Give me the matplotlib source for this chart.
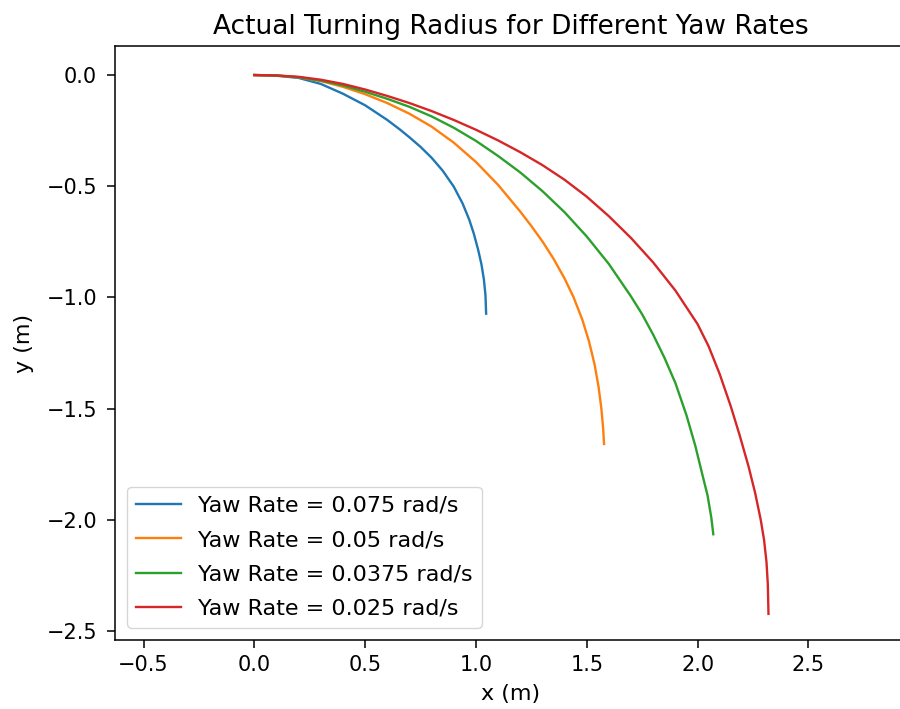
import matplotlib
matplotlib.use("Agg")
import matplotlib.pyplot as plt

# Yaw rates (rad/s)
yaw_rates = [0.075, 0.05, 0.0375, 0.025]

# Trajectory points (x, y in metres)
x_0075 = [0.000, 0.100, 0.200, 0.300, 0.400, 0.500, 0.600, 0.657, 0.700, 0.750, 0.800, 0.850,
          0.900, 0.940, 0.970, 0.990, 1.010, 1.025, 1.036, 1.043, 1.046]
y_0075 = [0.000, -0.003, -0.013, -0.040, -0.084, -0.136, -0.202, -0.245, -0.280, -0.323, -0.372, -0.430,
          -0.502, -0.578, -0.651, -0.712, -0.786, -0.852, -0.920, -0.990, -1.073]

x_005 = [0.000, 0.100, 0.200, 0.300, 0.400, 0.500, 0.600, 0.700, 0.800, 0.900, 1.000, 1.100, 1.200,
         1.250, 1.300, 1.350, 1.400, 1.440, 1.480, 1.510, 1.535, 1.553, 1.566, 1.574, 1.578]
y_005 = [0.000, -0.002, -0.010, -0.027, -0.053, -0.086, -0.126, -0.174, -0.232, -0.304, -0.391, -0.494, -0.614,
         -0.679, -0.748, -0.826, -0.915, -0.998, -1.100, -1.197, -1.300, -1.400, -1.500, -1.590, -1.659]

x_00375 = [0.000, 0.100, 0.200, 0.300, 0.400, 0.500, 0.600, 0.700, 0.800, 0.900, 1.000, 1.100, 1.200,
           1.300, 1.400, 1.500, 1.600, 1.700, 1.750, 1.800, 1.850, 1.900, 1.950, 1.990, 2.020, 2.045,
           2.062, 2.071]
y_00375 = [0.000, -0.002, -0.010, -0.025, -0.047, -0.075, -0.107, -0.143, -0.186, -0.237, -0.296, -0.364, -0.438,
           -0.522, -0.617, -0.726, -0.850, -0.996, -1.076, -1.168, -1.270, -1.385, -1.530, -1.668, -1.790, -1.890,
           -1.990, -2.065]

x_0025 = [0.000, 0.100, 0.200, 0.300, 0.400, 0.500, 0.600, 0.700, 0.800, 0.900, 1.000, 1.100, 1.200,
          1.300, 1.400, 1.500, 1.600, 1.700, 1.800, 1.900, 2.000, 2.050, 2.100, 2.150, 2.190, 2.230,
          2.260, 2.285, 2.300, 2.311, 2.317, 2.320]
y_0025 = [0.000, -0.002, -0.008, -0.021, -0.040, -0.065, -0.094, -0.126, -0.162, -0.202, -0.246, -0.294, -0.347,
          -0.405, -0.471, -0.547, -0.635, -0.733, -0.843, -0.969, -1.120, -1.220, -1.345, -1.490, -1.620, -1.760,
          -1.880, -2.000, -2.090, -2.190, -2.290, -2.423]

xs = [x_0075, x_005, x_00375, x_0025]
ys = [y_0075, y_005, y_00375, y_0025]
colors = ["#1f77b4", "#ff7f0e", "#2ca02c", "#d62728"]

plt.rcParams["font.family"] = ["DejaVu Sans"]
plt.rcParams["font.size"] = 16

fig = plt.figure(figsize=(9, 7.09), dpi=100)
ax = fig.add_axes([115 / 900, 69 / 709, 792 / 900, 594 / 709])

for x, y, w, c in zip(xs, ys, yaw_rates, colors):
    ax.plot(x, y, color=c, lw=1.7, label=f"Yaw Rate = {w} rad/s")

ax.set_xlim(-0.6286, 2.945)
ax.set_ylim(-2.5405, 0.1306)
ax.set_xticks([-0.5, 0.0, 0.5, 1.0, 1.5, 2.0, 2.5])
ax.set_yticks([0.0, -0.5, -1.0, -1.5, -2.0, -2.5])
ax.tick_params(length=6, width=1.1, labelsize=15)
ax.tick_params(axis="y", pad=7)
ax.tick_params(axis="x", pad=5)
for s in ax.spines.values():
    s.set_linewidth(1.1)
ax.spines["right"].set_visible(False)

ax.set_title("Actual Turning Radius for Different Yaw Rates", fontsize=19, pad=9)
ax.set_xlabel("x (m)", labelpad=6)
ax.set_ylabel("y (m)", labelpad=9)
ax.legend(loc="lower left", borderaxespad=0.55, labelspacing=0.65, fontsize=16)

fig.savefig("out.png", dpi=100)
